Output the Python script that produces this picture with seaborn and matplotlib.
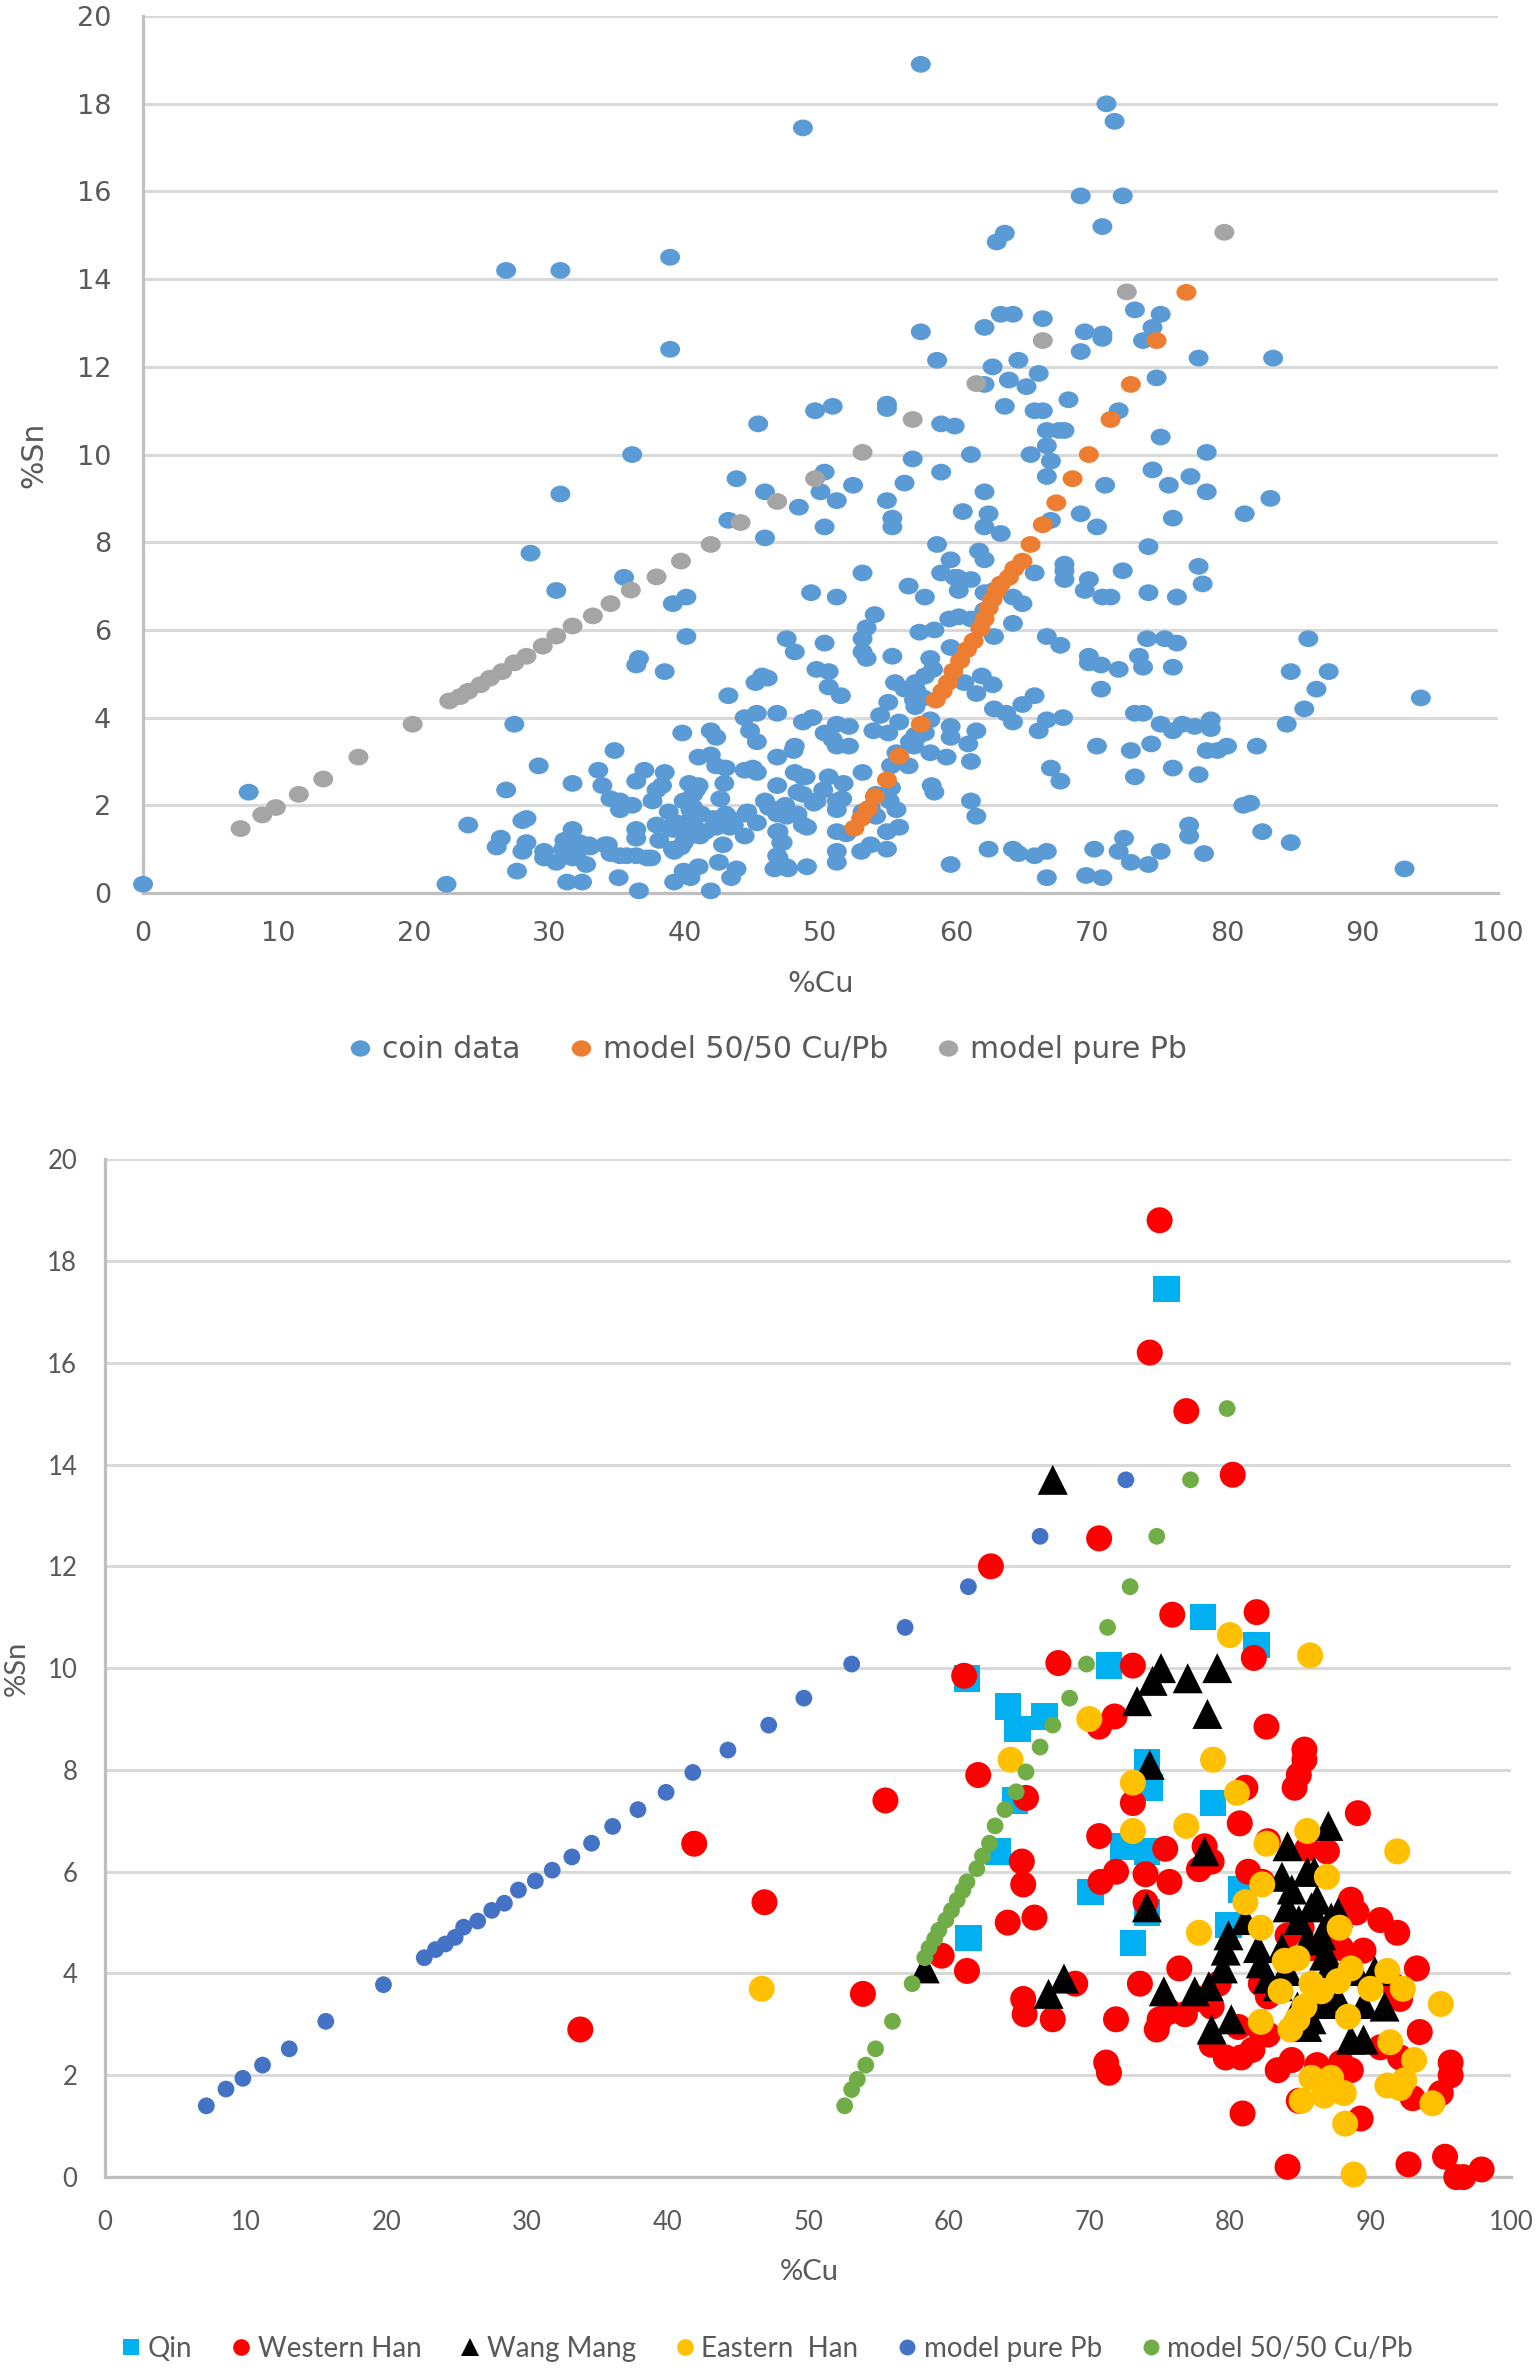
import matplotlib
matplotlib.use("Agg")
import matplotlib.pyplot as plt
from matplotlib.markers import MarkerStyle
from matplotlib.transforms import Affine2D
from matplotlib.lines import Line2D
import pandas as pd
import seaborn as sns

# ---- top panel: coin analyses (%Cu, %Sn) ----
coin_data = [
    (26.8, 14.2), (30.8, 14.2), (38.9, 14.5), (38.9, 12.4), (45.4, 10.7), (36.1, 10.0), (43.8, 9.45),
    (45.9, 9.15), (30.8, 9.1), (43.2, 8.5), (45.9, 8.1), (28.6, 7.75), (35.5, 7.2), (30.5, 6.9),
    (39.1, 6.6), (40.1, 6.75),
    (57.4, 18.9), (48.7, 17.45), (71.1, 18.0), (71.7, 17.6), (69.2, 15.9), (72.3, 15.9), (70.8, 15.2),
    (63.6, 15.05), (63.0, 14.85), (73.2, 13.3), (75.1, 13.2), (74.5, 12.9), (73.8, 12.6), (63.3, 13.2),
    (64.2, 13.2), (66.4, 13.1), (62.1, 12.9), (57.4, 12.8), (69.5, 12.8), (70.8, 12.75), (70.8, 12.65),
    (69.2, 12.35), (77.9, 12.2), (83.4, 12.2), (58.6, 12.15), (64.6, 12.15), (62.7, 12.0), (66.1, 11.85),
    (74.8, 11.75), (62.1, 11.6), (63.9, 11.7), (65.2, 11.55), (68.3, 11.25), (63.6, 11.1), (65.8, 11.0),
    (66.4, 11.0), (72.0, 11.0), (49.6, 11.0), (50.9, 11.1), (54.9, 11.15), (54.9, 11.05), (58.9, 10.7),
    (59.9, 10.65), (66.7, 10.55), (67.6, 10.55), (68.0, 10.55), (75.1, 10.4), (66.7, 10.2), (61.1, 10.0),
    (65.5, 10.0), (78.5, 10.05), (56.8, 9.9), (67.0, 9.85), (50.3, 9.6), (66.7, 9.5), (58.9, 9.6),
    (74.5, 9.65), (77.3, 9.5), (52.4, 9.3), (56.2, 9.35), (71.0, 9.3), (75.7, 9.3), (78.5, 9.15),
    (50.0, 9.15), (48.4, 8.8), (51.2, 8.95), (54.9, 8.95), (83.2, 9.0), (81.3, 8.65), (55.3, 8.55),
    (55.3, 8.35), (60.5, 8.7), (62.4, 8.65), (62.1, 8.35), (63.3, 8.2), (69.2, 8.65), (70.4, 8.35),
    (76.0, 8.55), (50.3, 8.35), (67.0, 8.5), (58.6, 7.95), (74.2, 7.9), (61.7, 7.8), (62.1, 7.6),
    (59.6, 7.6), (68.0, 7.5), (68.0, 7.35), (68.0, 7.15), (72.3, 7.35), (77.9, 7.45), (78.2, 7.05),
    (53.1, 7.3), (58.9, 7.3), (59.9, 7.2), (61.1, 7.15), (65.8, 7.3), (69.8, 7.15), (69.5, 6.9),
    (56.5, 7.0), (49.3, 6.85), (51.2, 6.75), (57.7, 6.75), (60.2, 6.9), (62.1, 6.85), (70.8, 6.75),
    (71.4, 6.75), (74.2, 6.85), (76.3, 6.75), (62.1, 9.15),
    (54.0, 6.35), (53.4, 6.05), (53.1, 5.8), (53.1, 5.5), (53.4, 5.35), (47.5, 5.8), (48.1, 5.5),
    (50.3, 5.7), (55.3, 5.4), (46.1, 4.9), (49.7, 5.1), (50.6, 5.05), (50.6, 4.7), (51.5, 4.5),
    (46.8, 4.1), (48.7, 3.9), (49.4, 4.0), (50.3, 3.65), (51.2, 3.85), (52.1, 3.8), (51.2, 3.35),
    (52.1, 3.35), (48.1, 3.35), (46.8, 3.1), (48.1, 2.75), (48.7, 2.65), (50.6, 2.65), (51.7, 2.5),
    (53.1, 2.75), (46.8, 2.45), (48.3, 2.3), (49.7, 2.1), (51.2, 2.1), (46.8, 1.9), (48.3, 1.8),
    (48.7, 1.55), (46.8, 1.4), (47.2, 1.15), (51.2, 1.4), (51.2, 0.95), (51.2, 0.7), (46.8, 0.85),
    (46.8, 0.6), (47.5, 0.6), (49.0, 0.6), (53.0, 0.95), (53.7, 1.1), (54.9, 1.0), (54.9, 1.4),
    (55.8, 1.5), (55.6, 1.9), (56.5, 2.9), (55.2, 2.9), (55.6, 3.2), (56.6, 3.45), (57.0, 3.6),
    (57.7, 3.65), (58.1, 3.2), (59.3, 3.1), (59.6, 3.8), (59.6, 3.55), (60.9, 3.4), (61.1, 3.0),
    (61.5, 3.7), (58.2, 2.45), (58.4, 2.3), (61.1, 2.1), (61.5, 1.75), (59.6, 0.65), (62.4, 1.0),
    (64.2, 1.0), (64.6, 0.9), (65.8, 0.85), (66.7, 0.95), (66.7, 0.35), (69.6, 0.4), (70.8, 0.35),
    (70.2, 1.0), (72.0, 0.95), (72.4, 1.25), (72.9, 0.7), (74.2, 0.65), (75.1, 0.95), (77.2, 1.55),
    (77.2, 1.3), (78.3, 0.9), (82.6, 1.4), (84.7, 1.15), (81.2, 2.0), (81.7, 2.05), (93.1, 0.55),
    (94.3, 4.45), (86.0, 5.8), (84.7, 5.05), (87.5, 5.05), (86.6, 4.65), (85.7, 4.2), (84.4, 3.85),
    (82.2, 3.35), (80.0, 3.35), (79.3, 3.25), (78.5, 3.25), (77.9, 2.7), (76.0, 2.85), (74.4, 3.4),
    (72.9, 3.25), (73.2, 2.65), (70.4, 3.35), (67.0, 2.85), (67.7, 2.55), (78.8, 3.95), (78.8, 3.75),
    (77.6, 3.8), (76.7, 3.85), (76.0, 3.7), (75.1, 3.85), (73.8, 4.1), (73.2, 4.1), (67.9, 4.0),
    (66.7, 3.95), (66.1, 3.7), (65.8, 4.5), (64.9, 4.3), (64.2, 3.9), (62.8, 4.2), (63.7, 4.1),
    (70.7, 4.65), (69.8, 5.4), (69.8, 5.25), (70.7, 5.2), (72.0, 5.1), (73.5, 5.4), (73.8, 5.15),
    (74.1, 5.8), (75.4, 5.8), (76.3, 5.7), (76.0, 5.15), (66.7, 5.85), (67.7, 5.65), (64.2, 6.15),
    (62.8, 5.85), (64.9, 6.6), (64.2, 6.75), (57.3, 5.95), (58.4, 6.0), (59.5, 6.25), (60.2, 6.3),
    (61.1, 6.25), (62.0, 6.35), (59.6, 5.6), (58.1, 5.35), (57.7, 4.95), (57.0, 4.8), (55.5, 4.8),
    (56.2, 4.65), (60.6, 4.8), (61.5, 4.55), (61.9, 4.95), (62.7, 4.75), (55.0, 4.35), (57.0, 4.25),
    (58.1, 3.95), (54.4, 4.05), (55.8, 3.9), (53.9, 3.7), (55.0, 3.65), (55.2, 2.4), (53.1, 1.85),
    (53.7, 1.95),
    (0.0, 0.2), (7.8, 2.3), (22.4, 0.2), (24.0, 1.55), (27.4, 3.85), (26.8, 2.35), (29.2, 2.9),
    (31.7, 2.5), (26.1, 1.05), (26.4, 1.25), (28.0, 1.65), (28.3, 1.7), (28.3, 1.15), (28.0, 0.95),
    (27.6, 0.5), (29.6, 0.95), (29.6, 0.8), (30.5, 0.7), (31.0, 1.0), (31.7, 0.8), (32.7, 0.65),
    (31.3, 0.25), (32.4, 0.25), (31.7, 1.45), (32.9, 1.1), (34.3, 1.1), (33.6, 2.8), (33.9, 2.45),
    (34.8, 3.25), (34.5, 2.15), (35.2, 1.9), (35.2, 2.1), (36.1, 2.0), (35.2, 0.85), (35.1, 0.35),
    (36.4, 1.45), (36.4, 1.25), (36.4, 0.85), (36.6, 0.05), (36.4, 2.55), (37.0, 2.8), (36.4, 5.2),
    (36.6, 5.35), (38.5, 5.05), (40.1, 5.85), (39.8, 3.65), (38.5, 2.75), (37.6, 2.1), (37.9, 2.35),
    (38.3, 2.45), (37.9, 1.55), (38.1, 1.2), (38.8, 1.85), (39.2, 0.95), (39.1, 1.45), (37.2, 0.8),
    (39.2, 0.25), (40.4, 0.35), (39.9, 0.5), (41.0, 0.6), (41.9, 0.05), (40.3, 2.5), (40.8, 2.35),
    (39.9, 2.1), (40.4, 1.9), (40.4, 1.3), (40.8, 1.45), (41.5, 1.4), (39.9, 1.15), (41.0, 3.1),
    (41.9, 3.15), (41.9, 3.7), (42.3, 3.55), (43.0, 2.85), (42.9, 2.5), (42.6, 2.15), (43.0, 1.8),
    (43.3, 1.5), (42.3, 1.6), (42.8, 1.1), (44.4, 1.3), (42.5, 0.7), (43.4, 0.35), (43.8, 0.55),
    (43.2, 4.5), (44.4, 4.0), (45.3, 4.1), (44.8, 3.7), (45.3, 3.45), (44.4, 2.8), (45.0, 2.85),
    (45.3, 2.75), (44.6, 1.85), (45.3, 1.6), (45.9, 2.1), (45.2, 4.8), (45.7, 4.95),
    (48.0, 3.25), (42.3, 2.9), (41.0, 2.45), (40.6, 2.25), (40.6, 1.95), (40.5, 1.8), (41.2, 1.8),
    (43.1, 1.75), (43.6, 1.55), (42.1, 1.7), (42.3, 1.5), (44.5, 1.8), (46.2, 1.95), (46.8, 1.8),
    (47.4, 2.0), (47.5, 1.75), (46.9, 1.4), (47.1, 1.15), (46.9, 0.8), (46.6, 0.55), (47.6, 0.55),
    (38.9, 1.5), (39.4, 1.6), (39.9, 1.45), (41.1, 1.3), (40.7, 1.5), (39.1, 1.0), (39.7, 1.05),
    (35.7, 0.85), (37.5, 0.8), (31.1, 1.2), (32.2, 1.15), (33.0, 1.05), (34.1, 1.1), (34.5, 0.9),
    (32.0, 0.85),
    (60.1, 7.2), (62.8, 6.9), (62.1, 6.45), (58.3, 5.1), (56.9, 4.4), (57.1, 4.6), (57.6, 4.45),
    (50.9, 3.5), (57.1, 3.55), (56.9, 3.35), (48.9, 2.65), (50.2, 2.35), (48.7, 2.25), (49.5, 2.05),
    (51.6, 2.15), (51.2, 1.9), (49.0, 1.5), (51.9, 1.35), (54.1, 2.25), (55.1, 2.1), (54.1, 1.75),
]

mix_cu = [52.5, 53.0, 53.5, 54.0, 54.9, 55.8, 57.4, 58.5, 59.0, 59.4, 59.8, 60.3, 60.8, 61.3, 61.8, 62.1,
          62.4, 62.7, 63.0, 63.3, 63.9, 64.3, 64.9, 65.5, 66.4, 67.4, 68.6, 69.8, 71.4, 72.9, 74.8, 77.0]
mix_sn = [1.48, 1.7, 1.92, 2.2, 2.58, 3.12, 3.85, 4.4, 4.6, 4.8, 5.06, 5.3, 5.55, 5.75, 6.03, 6.25,
          6.5, 6.7, 6.9, 7.05, 7.2, 7.4, 7.57, 7.95, 8.4, 8.9, 9.45, 10.0, 10.8, 11.6, 12.6, 13.7]

pb_cu = [7.2, 8.8, 9.8, 11.5, 13.3, 15.9, 19.9, 22.6, 23.4, 24.0, 24.9, 25.6, 26.5, 27.4, 28.3, 29.5, 30.5,
         31.7, 33.2, 34.5, 36.0, 37.9, 39.7, 41.9, 44.1, 46.8, 49.6, 53.1, 56.8, 61.5, 66.4, 72.6, 79.8]
pb_sn = [1.47, 1.78, 1.95, 2.25, 2.6, 3.1, 3.85, 4.38, 4.48, 4.6, 4.75, 4.9, 5.05, 5.25, 5.4, 5.63, 5.86,
         6.09, 6.32, 6.6, 6.91, 7.21, 7.57, 7.95, 8.45, 8.93, 9.45, 10.05, 10.8, 11.62, 12.6, 13.71, 15.07]

# ---- bottom panel: coins by period ----
qin = [(75.5, 17.45), (78.1, 11.0), (81.9, 10.45), (71.4, 10.05), (61.3, 9.8), (64.2, 9.25), (64.9, 8.8),
       (66.8, 9.05), (74.1, 8.15), (74.3, 7.65), (78.8, 7.35), (64.7, 7.4), (63.5, 6.4), (72.4, 6.5),
       (74.1, 6.4), (70.1, 5.6), (73.1, 4.6), (61.4, 4.7), (80.8, 5.65), (79.9, 4.95), (74.1, 5.2)]

western_han = [
    (75.0, 18.8), (74.3, 16.2), (76.9, 15.05), (80.2, 13.8), (70.7, 12.55), (63.0, 12.0), (75.9, 11.05),
    (81.9, 11.1), (67.8, 10.1), (73.1, 10.05), (81.7, 10.2), (61.1, 9.85), (71.8, 9.05), (70.7, 8.85),
    (82.6, 8.85), (85.3, 8.4), (85.3, 8.2), (84.9, 7.9), (84.6, 7.65), (81.1, 7.65), (62.1, 7.9),
    (65.5, 7.45), (73.1, 7.35), (80.7, 6.95), (89.1, 7.15), (70.7, 6.7), (75.4, 6.45), (78.2, 6.5),
    (78.7, 6.2), (77.8, 6.05), (86.9, 6.4), (82.7, 6.6), (82.3, 5.8), (65.2, 6.2), (65.3, 5.75),
    (64.2, 5.0), (66.1, 5.1), (70.8, 5.8), (71.9, 6.0), (74.0, 5.95), (75.7, 5.8), (74.0, 5.4),
    (88.6, 5.45), (89.0, 5.2), (90.7, 5.05), (91.9, 4.8), (89.5, 4.45), (93.3, 4.1), (59.5, 4.35),
    (61.3, 4.05), (53.9, 3.6), (55.5, 7.4), (46.9, 5.4), (41.9, 6.55), (33.8, 2.9), (69.0, 3.8),
    (65.3, 3.5), (65.4, 3.2), (67.4, 3.1), (71.9, 3.1), (73.6, 3.8), (76.4, 4.1), (74.8, 2.9),
    (75.0, 3.1), (75.7, 3.25), (71.2, 2.25), (71.4, 2.05), (78.7, 2.6), (79.7, 2.35), (80.8, 2.35),
    (78.7, 3.35), (81.6, 2.5), (82.7, 2.8), (83.4, 2.1), (84.4, 2.3), (86.2, 2.2), (87.9, 2.25),
    (88.6, 2.1), (84.9, 1.5), (80.9, 1.25), (89.3, 1.15), (84.1, 0.2), (92.7, 0.25), (95.3, 0.4),
    (96.1, 0.0), (96.6, 0.0), (97.9, 0.15), (95.7, 2.25), (95.7, 2.0), (95.0, 1.65), (93.5, 2.85),
    (90.7, 2.55), (92.1, 2.35), (93.0, 1.55), (92.1, 3.5), (82.2, 3.8), (82.7, 3.55), (84.1, 4.75),
    (85.1, 4.9), (85.8, 4.5), (87.2, 4.8), (87.9, 4.5), (85.5, 6.45), (81.3, 6.0), (90.0, 3.75),
    (91.7, 3.75), (79.2, 3.8), (80.6, 2.95), (82.0, 2.95), (77.8, 3.5), (76.8, 3.2),
]

wang_mang = [
    (67.4, 13.7), (75.1, 10.0), (79.1, 10.0), (74.5, 9.75), (77.0, 9.8), (73.4, 9.35), (78.4, 9.1),
    (74.3, 8.1), (87.0, 6.9), (78.2, 6.4), (84.1, 6.5), (83.7, 5.9), (85.5, 6.0), (86.0, 6.0),
    (74.1, 5.3), (58.3, 4.1), (67.1, 3.6), (68.2, 3.9), (75.3, 3.65), (77.5, 3.65), (78.5, 3.75),
    (78.7, 2.9), (80.1, 3.1), (88.6, 2.7), (89.5, 2.7), (79.9, 4.75), (79.7, 4.45), (79.5, 4.1),
    (81.1, 5.05), (82.0, 4.5), (82.2, 4.2), (83.7, 4.5), (84.4, 5.65), (84.1, 5.3), (84.9, 5.05),
    (85.8, 5.3), (85.5, 4.65), (86.5, 4.75), (87.2, 5.1), (87.7, 5.2), (86.7, 4.35), (87.2, 4.2),
    (87.6, 3.55), (86.7, 3.4), (85.8, 3.1), (85.5, 2.95), (89.0, 4.05), (90.3, 4.05), (91.0, 3.35),
    (89.5, 3.4), (84.8, 3.35), (83.4, 3.75), (82.7, 3.9), (84.1, 4.05), (86.2, 5.45),
]

eastern_han = [
    (80.0, 10.65), (85.7, 10.25), (70.0, 9.0), (64.4, 8.2), (78.8, 8.2), (73.1, 7.75), (80.5, 7.55),
    (76.9, 6.9), (73.1, 6.8), (85.5, 6.8), (91.9, 6.4), (82.6, 6.55), (86.9, 5.9), (82.3, 5.75),
    (81.1, 5.4), (82.2, 4.9), (87.8, 4.9), (77.8, 4.8), (83.9, 4.25), (84.8, 4.3), (88.6, 4.1),
    (87.7, 3.85), (85.8, 3.8), (86.5, 3.65), (91.2, 4.05), (90.0, 3.7), (92.3, 3.7), (83.6, 3.65),
    (95.0, 3.4), (85.3, 3.35), (84.8, 3.1), (84.3, 2.9), (88.4, 3.15), (82.2, 3.05), (91.4, 2.65),
    (93.1, 2.3), (85.8, 1.95), (87.2, 1.95), (88.1, 1.65), (86.7, 1.6), (85.1, 1.5), (91.2, 1.8),
    (92.1, 1.75), (92.4, 1.9), (94.4, 1.45), (88.2, 1.05), (88.8, 0.05), (46.7, 3.7),
]

pb2_cu = [7.2, 8.6, 9.8, 11.2, 13.1, 15.7, 19.8, 22.7, 23.5, 24.2, 24.9, 25.5, 26.5, 27.5, 28.4, 29.4,
          30.6, 31.8, 33.2, 34.6, 36.1, 37.9, 39.9, 41.8, 44.3, 47.2, 49.7, 53.1, 56.9, 61.4, 66.5, 72.6]
pb2_sn = [1.4, 1.73, 1.94, 2.2, 2.52, 3.06, 3.78, 4.31, 4.47, 4.58, 4.71, 4.91, 5.03, 5.24, 5.38, 5.64,
          5.82, 6.03, 6.29, 6.56, 6.89, 7.22, 7.56, 7.95, 8.39, 8.88, 9.41, 10.08, 10.8, 11.6, 12.59, 13.7]

mix2_cu = [52.6, 53.1, 53.5, 54.1, 54.8, 56.0, 57.4, 58.3, 58.6, 59.0, 59.3, 59.8, 60.2, 60.6, 61.0, 61.3,
           62.0, 62.4, 62.9, 63.3, 64.0, 64.8, 65.5, 66.5, 67.4, 68.6, 69.8, 71.3, 72.9, 74.8, 77.2, 79.8]
mix2_sn = [1.4, 1.72, 1.92, 2.2, 2.52, 3.06, 3.8, 4.31, 4.5, 4.68, 4.85, 5.05, 5.24, 5.44, 5.63, 5.8,
           6.06, 6.31, 6.56, 6.9, 7.22, 7.57, 7.96, 8.45, 8.88, 9.41, 10.08, 10.8, 11.6, 12.59, 13.7, 15.1]

TEXT = "#595959"
GRID = "#d9d9d9"
AXIS = "#bfbfbf"
WIDE = ["DejaVu Sans"]          # top panel text is drawn wide in the original
NARROW = ["Lato", "DejaVu Sans"]

sns.set_theme(style="white")
plt.rcParams["font.family"] = NARROW


def to_df(points):
    return pd.DataFrame(points, columns=["cu", "sn"])


def style_axes(ax, tick_size, ypad, xpad, family):
    ax.set_xlim(0, 100)
    ax.set_ylim(0, 20)
    ax.set_xticks(range(0, 101, 10))
    ax.set_yticks(range(0, 21, 2))
    ax.grid(axis="y", color=GRID, linewidth=2.2)
    ax.grid(axis="x", visible=False)
    ax.set_axisbelow(True)
    for side in ["top", "right"]:
        ax.spines[side].set_visible(False)
    for side in ["left", "bottom"]:
        ax.spines[side].set_color(AXIS)
        ax.spines[side].set_linewidth(2.3)
    ax.tick_params(length=0, labelsize=tick_size, colors=TEXT)
    ax.tick_params(axis="y", pad=ypad)
    ax.tick_params(axis="x", pad=xpad)
    for lab in ax.get_xticklabels() + ax.get_yticklabels():
        lab.set_family(family)


fig = plt.figure(figsize=(15.36, 23.70), dpi=100)
ax1 = fig.add_axes([0.0931, 0.6232, 0.8822, 0.3700])
ax2 = fig.add_axes([0.0684, 0.0814, 0.9154, 0.4295])

oval = MarkerStyle("o", transform=Affine2D().scale(1.0, 0.84))
common = dict(linewidth=0, edgecolor="none", legend=False, clip_on=False, zorder=3)

# top panel
coin_df = to_df(coin_data)
sns.scatterplot(data=coin_df, x="cu", y="sn", ax=ax1, color="#5b9bd5", marker=oval, s=207, **common)
sns.scatterplot(x=mix_cu, y=mix_sn, ax=ax1, color="#ed7d31", marker=oval, s=207, **common)
sns.scatterplot(x=pb_cu, y=pb_sn, ax=ax1, color="#a5a5a5", marker=oval, s=207, **common)

style_axes(ax1, 19.5, 23, 20, WIDE)
ax1.set_xlabel("%Cu", fontsize=21, color=TEXT, family=WIDE)
ax1.set_ylabel("%Sn", fontsize=21.5, color=TEXT, family=WIDE)
ax1.xaxis.set_label_coords(0.5, -0.1038)
ax1.xaxis.label.set_va("center")
ax1.yaxis.set_label_coords(-0.0804, 0.5)
ax1.yaxis.label.set_va("center")

top_handles = [
    Line2D([], [], ls="none", marker=oval, markersize=14, color="#5b9bd5", markeredgewidth=0),
    Line2D([], [], ls="none", marker=oval, markersize=14, color="#ed7d31", markeredgewidth=0),
    Line2D([], [], ls="none", marker=oval, markersize=14, color="#a5a5a5", markeredgewidth=0),
]
fig.legend(top_handles, ["coin data", "model 50/50 Cu/Pb", "model pure Pb"],
           loc="center", bbox_to_anchor=(0.5, 1 - 1050 / 2370), ncol=3, frameon=False,
           prop={"family": WIDE, "size": 21.5}, labelcolor=TEXT, handlelength=0.75,
           handletextpad=0.35, columnspacing=1.65, borderpad=0, borderaxespad=0)

# bottom panel
series = [
    (to_df(qin), "#00b0f0", "s", 364),
    (to_df(western_han), "#ff0000", "o", 350),
    (to_df(wang_mang), "#000000", "^", 467),
    (to_df(eastern_han), "#ffc000", "o", 350),
]
for df, col, mk, size in series:
    sns.scatterplot(data=df, x="cu", y="sn", ax=ax2, color=col, marker=mk, s=size, **common)
sns.scatterplot(x=pb2_cu, y=pb2_sn, ax=ax2, color="#4472c4", marker="o", s=146, **common)
sns.scatterplot(x=mix2_cu, y=mix2_sn, ax=ax2, color="#70ad47", marker="o", s=146, **common)

style_axes(ax2, 18.5, 20, 24, NARROW)
ax2.set_xlabel("%Cu", fontsize=21, color=TEXT)
ax2.set_ylabel("%Sn", fontsize=21, color=TEXT)
ax2.xaxis.set_label_coords(0.501, -0.0933)
ax2.xaxis.label.set_va("center")
ax2.yaxis.set_label_coords(-0.0626, 0.5)
ax2.yaxis.label.set_va("center")

bottom_handles = [
    Line2D([], [], ls="none", marker="s", markersize=11.5, color="#00b0f0", markeredgewidth=0),
    Line2D([], [], ls="none", marker="o", markersize=12, color="#ff0000", markeredgewidth=0),
    Line2D([], [], ls="none", marker="^", markersize=13.4, color="#000000", markeredgewidth=0),
    Line2D([], [], ls="none", marker="o", markersize=12, color="#ffc000", markeredgewidth=0),
    Line2D([], [], ls="none", marker="o", markersize=11.5, color="#4472c4", markeredgewidth=0),
    Line2D([], [], ls="none", marker="o", markersize=11.5, color="#70ad47", markeredgewidth=0),
]
fig.legend(bottom_handles,
           ["Qin", "Western Han", "Wang Mang", "Eastern  Han", "model pure Pb", "model 50/50 Cu/Pb"],
           loc="center", bbox_to_anchor=(0.5, 1 - 2349 / 2370), ncol=6, frameon=False,
           fontsize=20, labelcolor=TEXT, handlelength=0.6, handletextpad=0.3,
           columnspacing=1.45, borderpad=0, borderaxespad=0)

fig.savefig("out.png", dpi=100)
